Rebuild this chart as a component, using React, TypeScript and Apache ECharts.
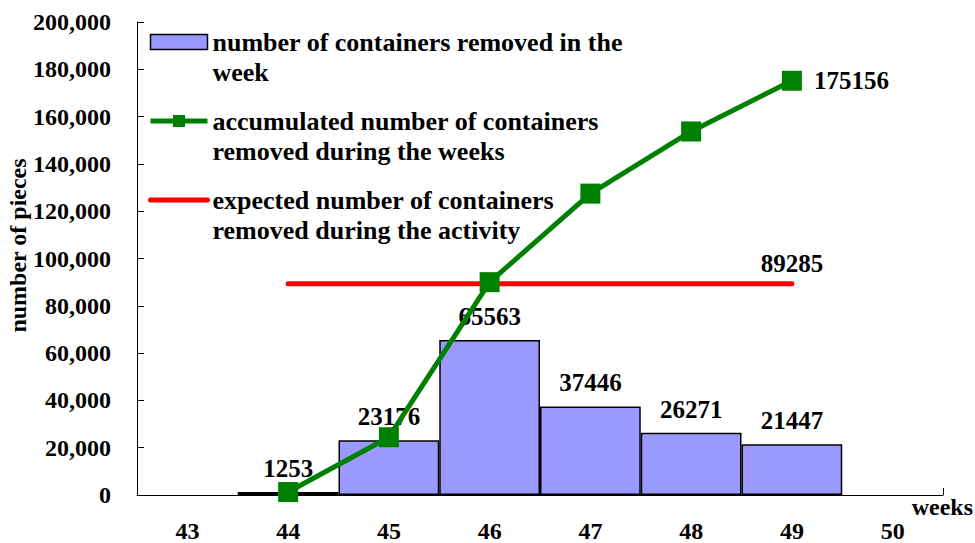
import React, { useEffect, useRef } from "react";
import * as echarts from "echarts";

const weeks = ["43", "44", "45", "46", "47", "48", "49", "50"];
const removedPerWeek = [null, 1253, 23176, 65563, 37446, 26271, 21447, null];
const accumulated = [null, 1253, 24429, 89992, 127438, 153709, 175156, null];
const expected = [null, 89285, 89285, 89285, 89285, 89285, 89285, null];

const NAME_BAR = "number of containers removed in the week";
const NAME_ACC = "accumulated number of containers removed during the weeks";
const NAME_EXP = "expected number of containers removed during the activity";
const legendLines: Record<string, string> = {
  [NAME_BAR]: "number of containers removed in the\nweek",
  [NAME_ACC]: "accumulated number of containers\nremoved during the weeks",
  [NAME_EXP]: "expected number of containers\nremoved during the activity",
};

const FONT = "'Liberation Serif', 'Times New Roman', serif";

function lastIndex(arr: (number | null)[]) {
  let idx = -1;
  arr.forEach((v, i) => {
    if (v != null) idx = i;
  });
  return idx;
}

export default function App() {
  const ref = useRef<HTMLDivElement>(null);
  useEffect(() => {
    if (!ref.current) return;
    const chart = echarts.init(ref.current, null, { renderer: "svg" });
    const accLast = lastIndex(accumulated);
    const expLast = lastIndex(expected);
    const textBase = { fontFamily: FONT, fontWeight: "bold" as const, color: "#000" };
    chart.setOption({
      animation: false,
      backgroundColor: "#fff",
      grid: {
        left: 137,
        right: 32,
        top: 22,
        bottom: 48,
        containLabel: false,
        outerBoundsMode: "none",
      },
      legend: {
        orient: "vertical",
        left: 148,
        top: -3,
        padding: 0,
        itemGap: -11,
        itemWidth: 57,
        itemHeight: 15,
        selectedMode: false,
        data: [
          { name: NAME_BAR, icon: "rect", itemStyle: { borderWidth: 1.5, borderColor: "#000" } },
          { name: NAME_ACC, lineStyle: { width: 5 } },
          { name: NAME_EXP, lineStyle: { width: 5 }, itemStyle: { opacity: 0 } },
        ],
        formatter: (n: string) => "\n" + (legendLines[n] || n),
        textStyle: {
          ...textBase,
          fontSize: 26,
          lineHeight: 30,
        },
      },
      xAxis: {
        type: "category",
        data: weeks,
        boundaryGap: true,
        name: "weeks",
        nameLocation: "end",
        nameGap: 30,
        nameMoveOverlap: false,
        nameTextStyle: {
          ...textBase,
          fontSize: 24,
          lineHeight: 24,
          align: "right",
          verticalAlign: "top",
          padding: [0, 0, 0, 0],
        },
        axisLine: { lineStyle: { color: "#000", width: 1 } },
        axisTick: { show: true, inside: true, length: 7, interval: 8, lineStyle: { color: "#000" } },
        axisLabel: { ...textBase, fontSize: 24, lineHeight: 22, margin: 25 },
        splitLine: { show: false },
      },
      yAxis: {
        type: "value",
        min: 0,
        max: 200000,
        interval: 20000,
        name: "number of pieces",
        nameLocation: "middle",
        nameGap: 107,
        nameMoveOverlap: false,
        nameTextStyle: { ...textBase, fontSize: 24, lineHeight: 24, padding: [0, 0, 0, 26] },
        axisLine: { show: true, lineStyle: { color: "#000", width: 1 } },
        axisTick: { show: true, inside: true, length: 7, lineStyle: { color: "#000" } },
        axisLabel: {
          ...textBase,
          fontSize: 24,
          margin: 26,
          formatter: (v: number) => v.toLocaleString("en-US"),
        },
        splitLine: { show: false },
      },
      series: [
        {
          name: NAME_BAR,
          type: "bar",
          data: removedPerWeek,
          barCategoryGap: "0%",
          itemStyle: { color: "#9999ff", borderColor: "#000", borderWidth: 1.5 },
          label: { show: true, position: "top", distance: 11, ...textBase, fontSize: 25 },
          z: 1,
        },
        {
          name: NAME_EXP,
          type: "line",
          data: expected.map((v, i) =>
            i === expLast
              ? { value: v, symbol: "circle", symbolSize: 1, label: { show: true } }
              : v
          ),
          symbol: "none",
          lineStyle: { color: "#ff0000", width: 5, cap: "round" },
          itemStyle: { color: "#ff0000" },
          label: { show: false, position: "top", distance: 7, ...textBase, fontSize: 25 },
          z: 2,
        },
        {
          name: NAME_ACC,
          type: "line",
          data: accumulated.map((v, i) =>
            i === accLast ? { value: v, label: { show: true } } : v
          ),
          symbol: "rect",
          symbolSize: 20,
          lineStyle: { color: "#008000", width: 5 },
          itemStyle: { color: "#008000" },
          label: { show: false, position: "right", distance: 12, ...textBase, fontSize: 25 },
          z: 3,
        },
      ],
    });
    return () => chart.dispose();
  }, []);
  return (
    <div
      ref={ref}
      style={{ position: "fixed", left: 0, top: 0, width: 975, height: 543 }}
    />
  );
}
